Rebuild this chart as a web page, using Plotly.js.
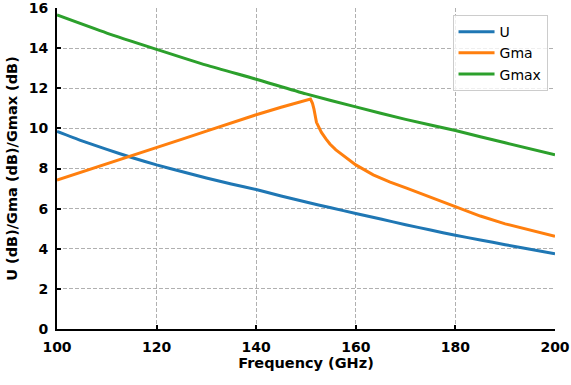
<!DOCTYPE html>
<html><head><meta charset="utf-8">
<script src="https://cdn.plot.ly/plotly-3.0.1.min.js"></script>
<style>html,body{margin:0;padding:0;background:#fff}#chart{width:571px;height:385px}</style>
</head><body><div id="chart"></div>
<script>
const freqU = [100,105,110,115,120,125,130,135,140,145,150,155,160,165,170,175,180,185,190,195,200];
const valU  = [9.85,9.38,8.95,8.55,8.18,7.85,7.53,7.23,6.95,6.63,6.33,6.04,5.76,5.48,5.2,4.93,4.67,4.44,4.2,3.98,3.75];
const freqGma = [100,105,110,115,120,125,130,135,140,145,150,150.9,151.3,151.6,152.1,152.6,153.1,154.0,154.8,156.0,157.5,160,163.5,166.9,170.2,172.9,176,180,185,190,195,200];
const valGma  = [7.42,7.82,8.22,8.62,9.03,9.45,9.86,10.27,10.68,11.05,11.38,11.46,11.25,10.96,10.3,10.02,9.8,9.48,9.22,8.93,8.64,8.18,7.68,7.32,7.02,6.77,6.45,6.08,5.63,5.24,4.92,4.62];
const freqGmax = [100,110,120,130,140,150,160,170,180,190,200];
const valGmax  = [15.65,14.75,13.94,13.15,12.45,11.72,11.07,10.45,9.89,9.28,8.68];
const xTicks = [100,120,140,160,180,200];
const yTicks = [0,2,4,6,8,10,12,14,16];

const traces = [
  {x:freqU, y:valU, name:'U', mode:'lines', line:{color:'#1f77b4', width:3, shape:'spline', smoothing:0.6}},
  {x:freqGma, y:valGma, name:'Gma', mode:'lines', line:{color:'#ff7f0e', width:3, shape:'linear'}},
  {x:freqGmax, y:valGmax, name:'Gmax', mode:'lines', line:{color:'#2ca02c', width:3, shape:'spline', smoothing:0.6}}
];
const font = {family:'DejaVu Sans', size:14, color:'#000'};
const boldTick = {family:'DejaVu Sans', size:14, color:'#000', weight:'bold'};
const titleFont = {family:'DejaVu Sans', size:14.5, color:'#000', weight:'bold'};
const axisCommon = {
  showline:true, linecolor:'#000', linewidth:2, mirror:false,
  ticks:'inside', ticklen:4, tickwidth:2, tickcolor:'#000',
  showgrid:true, gridcolor:'#b0b0b0', gridwidth:1, griddash:'4px,2px',
  zeroline:false, tickfont:boldTick, ticklabeloverflow:'allow'
};
const layout = {
  width:571, height:385,
  margin:{l:57, r:16, t:8, b:56},
  paper_bgcolor:'#fff', plot_bgcolor:'#fff',
  font:font,
  showlegend:true,
  legend:{x:0.985, y:0.978, xanchor:'right', yanchor:'top', bgcolor:'rgba(255,255,255,0.8)', bordercolor:'#cccccc', borderwidth:1, itemwidth:36, font:{family:'DejaVu Sans', size:14, color:'#000'}},
  xaxis: Object.assign({}, axisCommon, {range:[100,200], tickvals:xTicks, ticktext:xTicks.map(String), ticklabelstandoff:4,
    title:{text:'Frequency (GHz)', font:titleFont, standoff:4}}),
  yaxis: Object.assign({}, axisCommon, {range:[0,16], tickvals:yTicks, ticktext:yTicks.map(String), ticklabelstandoff:4,
    title:{text:'U (dB)/Gma (dB)/Gmax (dB)', font:titleFont, standoff:8}})
};
Plotly.newPlot('chart', traces, layout, {displayModeBar:false, staticPlot:true});
</script></body></html>
